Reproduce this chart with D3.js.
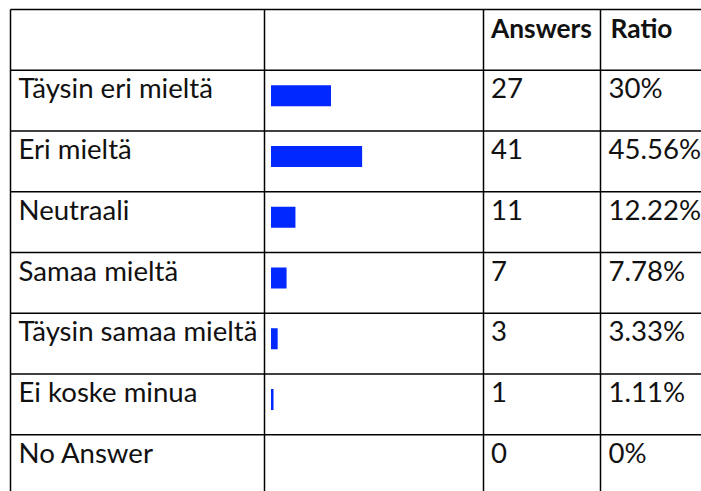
<!DOCTYPE html>
<html>
<head>
<meta charset="utf-8">
<script src="https://cdn.jsdelivr.net/npm/d3@7.9.0/dist/d3.min.js"></script>
<style>
  html, body { margin: 0; padding: 0; background: #fff; }
  svg { display: block; }
  text { font-family: "Lato", "Open Sans", sans-serif; fill: #111; }
</style>
</head>
<body>
<svg id="chart" width="701" height="491"></svg>
<script>
const categories = ["Täysin eri mieltä", "Eri mieltä", "Neutraali", "Samaa mieltä", "Täysin samaa mieltä", "Ei koske minua", "No Answer"];
const answers = [27, 41, 11, 7, 3, 1, 0];
const ratios = [30, 45.56, 12.22, 7.78, 3.33, 1.11, 0];
const ratioLabels = ["30%", "45.56%", "12.22%", "7.78%", "3.33%", "1.11%", "0%"];
const headers = ["", "", "Answers", "Ratio"];

const svg = d3.select('#chart');
const colX = [10.5, 264.5, 483.5, 600.5, 760];

// pick a font size so the longest label is about as wide as in the original (~239px)
let probe = svg.append('text').attr('font-size', 100).text(categories[4]);
let fontSize = 100 * 239 / probe.node().getComputedTextLength();
probe.remove();
let probeB = svg.append('text').attr('font-size', 100).attr('font-weight', 'bold').text(headers[2]);
let boldSize = 100 * 101 / probeB.node().getComputedTextLength();
probeB.remove();

// rows: header + one per category
let rowKeys = ["header"].concat(categories);
let y = d3.scaleBand().domain(rowKeys).range([9.5, 9.5 + rowKeys.length * 60.75]).padding(0);
// bar width: 2px per percent
let x = d3.scaleLinear().domain([0, 100]).range([0, 200]);

// bars
svg.selectAll('rect.bar')
  .data(categories)
  .join('rect')
  .attr('class', 'bar')
  .attr('x', colX[1] + 6.5)
  .attr('y', d => y(d) + 15)
  .attr('width', (d, i) => ratios[i] > 0 ? Math.max(x(ratios[i]), 2.5) : 0)
  .attr('height', 21)
  .attr('fill', '#0028ff');

// grid lines
let bottom = 9.5 + rowKeys.length * 60.75;
rowKeys.forEach(k => {
  svg.append('line')
    .attr('x1', colX[0]).attr('x2', 701)
    .attr('y1', y(k)).attr('y2', y(k))
    .attr('stroke', '#000').attr('stroke-width', 1.5);
});
colX.slice(0, 4).forEach(cx => {
  svg.append('line')
    .attr('x1', cx).attr('x2', cx)
    .attr('y1', 9.5).attr('y2', bottom)
    .attr('stroke', '#000').attr('stroke-width', 1.5);
});

// header
svg.append('text').attr('x', colX[2] + 7.5).attr('y', y("header") + 28)
  .attr('font-size', boldSize).attr('font-weight', 'bold').text(headers[2]);
svg.append('text').attr('x', colX[3] + 10).attr('y', y("header") + 28)
  .attr('font-size', boldSize).attr('font-weight', 'bold').text(headers[3]);

// body text
categories.forEach((c, i) => {
  let base = y(c) + 28;
  svg.append('text').attr('x', colX[0] + 8).attr('y', base).attr('font-size', fontSize).text(c);
  svg.append('text').attr('x', colX[2] + 7.5).attr('y', base).attr('font-size', fontSize).text(answers[i]);
  svg.append('text').attr('x', colX[3] + 8).attr('y', base).attr('font-size', fontSize).text(ratioLabels[i]);
});
</script>
</body>
</html>
